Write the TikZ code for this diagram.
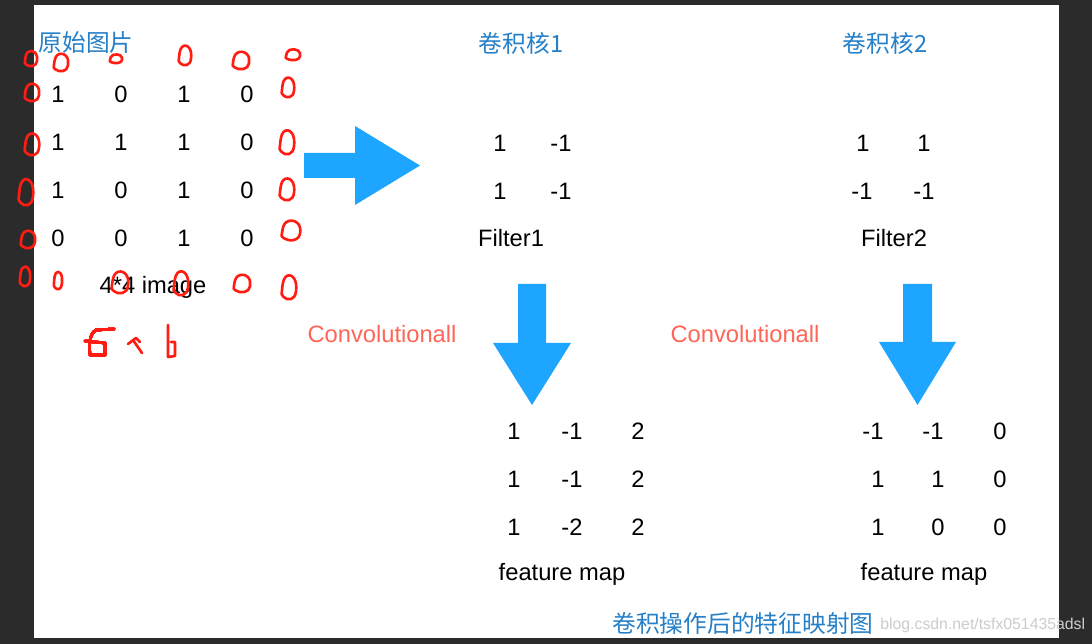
\documentclass[tikz,border=0pt]{standalone}
\usepackage{fontspec}
\setmainfont{Liberation Sans}
\newfontfamily\cjk{Noto Sans CJK SC}
\usetikzlibrary{positioning,calc}
\definecolor{frameDark}{RGB}{43,43,43}
\definecolor{titleBlue}{RGB}{38,128,200}
\definecolor{arrowBlue}{RGB}{29,165,255}
\definecolor{convRed}{RGB}{255,102,88}
\definecolor{penRed}{RGB}{255,28,18}
\tikzset{
  num/.style={font=\fontsize{13.5}{16}\selectfont, text=black, inner sep=0pt},
  cntitle/.style={font=\cjk\fontsize{13.5}{16}\selectfont, text=titleBlue, inner sep=0pt},
  convtxt/.style={font=\fontsize{13.5}{16}\selectfont, text=convRed, inner sep=0pt},
  wmark/.style={font=\fontsize{9}{11}\selectfont, text=gray!40, inner sep=0pt},
  scrib/.style={penRed, line width=1.5pt, line cap=round, line join=round},
  blockarr/.style={fill=arrowBlue},
}
% hand-drawn red loop: centre x, centre y, x radius, y radius
\newcommand{\penloop}[4]{%
  \draw[scrib] plot[smooth cycle, tension=0.8] coordinates {
    ({#1-#3},{#2+0.2*#4}) ({#1-0.5*#3},{#2-#4}) ({#1+0.7*#3},{#2-0.9*#4})
    ({#1+#3},{#2+0.3*#4}) ({#1+0.3*#3},{#2+#4}) ({#1-0.8*#3},{#2+0.8*#4})};
}
% block arrow pointing down: centre x, top, head start, tip, half shaft, half head
\newcommand{\downblock}[6]{%
  \fill[blockarr] ({#1-#5},#2) -- ({#1+#5},#2) -- ({#1+#5},#3) -- ({#1+#6},#3)
    -- (#1,#4) -- ({#1-#6},#3) -- ({#1-#5},#3) -- cycle;
}

\begin{document}
\begin{tikzpicture}[x=0.02cm, y=-0.02cm]
    % screenshot frame and white page
    \fill[frameDark] (0,0) rectangle (1092,644);
    \fill[white] (34,5) rectangle (1059,638);

    % original image
    \node[cntitle] (imgtitle) at (86,43) {原始图片};
    \foreach \row [count=\r] in {{1,0,1,0},{1,1,1,0},{1,0,1,0},{0,0,1,0}} {
      \foreach \v [count=\c] in \row {
        \node[num] (img-\r-\c) at ({58+(\c-1)*63},{94+(\r-1)*48}) {\v};
      }
    }
    \node[num, anchor=base] (imgcap) at (153,294) {4*4 image};

    % arrow to the filters
    \fill[blockarr] (304,153) -- (355,153) -- (355,126) -- (420,165.5)
      -- (355,205) -- (355,178) -- (304,178) -- cycle;

    % filter 1
    \node[cntitle] (k1title) at (521,43) {卷积核1};
    \foreach \v/\px/\py [count=\i] in {1/500/143, -1/561/143, 1/500/191, -1/561/191}
      \node[num] (k1-\i) at (\px,\py) {\v};
    \node[num] (k1cap) at (511,238) {Filter1};

    % filter 2
    \node[cntitle] (k2title) at (885,43) {卷积核2};
    \foreach \v/\px/\py [count=\i] in {1/863/143, 1/924/143, -1/862/191, -1/924/191}
      \node[num] (k2-\i) at (\px,\py) {\v};
    \node[num] (k2cap) at (894,238) {Filter2};

    % convolution steps
    \node[convtxt] (conv1) at (382,334) {Convolutionall};
    \downblock{532}{284}{343}{405}{14}{39}
    \node[convtxt] (conv2) at (745,334) {Convolutionall};
    \downblock{917.5}{284}{342}{405}{14.5}{38.5}

    % feature map 1
    \foreach \v/\px/\py [count=\i] in {1/514/431, -1/572/431, 2/638/431,
                                       1/514/479, -1/572/479, 2/638/479,
                                       1/514/527, -2/572/527, 2/638/527}
      \node[num] (f1-\i) at (\px,\py) {\v};
    \node[num, anchor=base] (f1cap) at (562,581) {feature map};

    % feature map 2
    \foreach \v/\px/\py [count=\i] in {-1/873/431, -1/933/431, 0/1000/431,
                                       1/878/479, 1/938/479, 0/1000/479,
                                       1/878/527, 0/938/527, 0/1000/527}
      \node[num] (f2-\i) at (\px,\py) {\v};
    \node[num, anchor=base] (f2cap) at (924,581) {feature map};

    \node[cntitle] (maptitle) at (743,623) {卷积操作后的特征映射图};
    \node[wmark, anchor=base west] (wm) at (880,630) {blog.csdn.net/tsfx051435adsl};

    % red pen marks: zero padding round the image
    \foreach \px/\py/\rx/\ry in {31/59/6/7, 61/63/7/8, 116/59/6/4, 185/56/6/9, 241/61/8/8, 293/55/7/5,
                                 32/93/7/8, 32/145/7/10, 26/193/7/12, 28/240/7/8, 25/277/5/9,
                                 288/88/6/9, 287/143/7/11, 287/190/7/10, 291/231/9/9, 289/288/7/11,
                                 58/281/4/8, 120/283/8/10, 181/284/7/11, 242/284/8/8}
      \penloop{\px}{\py}{\rx}{\ry}
    % "6 x 6" scribble
    \draw[scrib] (114,329) -- (96,330) .. controls (89,334) and (89,346) .. (90,355)
      -- (105,355) -- (105,343) -- (85,341);
    \draw[scrib] (142,353) -- (133,340);
    \draw[scrib] (128,344) -- (136,338) -- (140,342);
    \draw[scrib] (168,325) -- (168,357) -- (175,356) -- (175,342) -- (171,342);
\end{tikzpicture}
\end{document}
